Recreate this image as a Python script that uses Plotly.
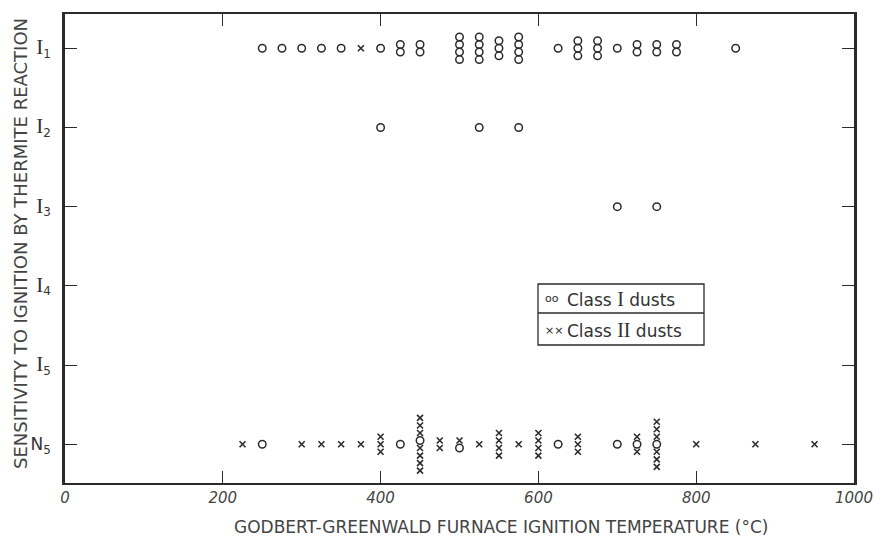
import plotly.graph_objects as go

# ---- data ----
# sensitivity categories (numeric position: I1 top ... N5 bottom)
cat_labels = ["N5", "I5", "I4", "I3", "I2", "I1"]
cat_values = [0, 1, 2, 3, 4, 5]

# each entry: temperature (deg C) and the stacked marks at that temperature,
# listed top to bottom ("o" = Class I dust, "x" = Class II dust)
i1_temps = [250, 275, 300, 325, 350, 375, 400, 425, 450, 500, 525, 550, 575,
            625, 650, 675, 700, 725, 750, 775, 850]
i1_marks = ["o", "o", "o", "o", "o", "x", "o", "oo", "oo", "oooo", "oooo", "ooo",
            "oooo", "o", "ooo", "ooo", "o", "oo", "oo", "oo", "o"]

i2_temps = [400, 525, 575]
i2_marks = ["o", "o", "o"]

i3_temps = [700, 750]
i3_marks = ["o", "o"]

n5_temps = [225, 250, 300, 325, 350, 375, 400, 425, 450, 475, 500, 525, 550,
            575, 600, 625, 650, 700, 725, 750, 800, 875, 950]
n5_marks = ["x", "o", "x", "x", "x", "x", "xxx", "o", "xxxoxxxx", "xx", "xo", "x",
            "xxxx", "x", "xxxx", "o", "xxx", "o", "xox", "xxxoxxx", "x", "x", "x"]

x_ticks = [0, 200, 400, 600, 800, 1000]

# ---- build stacked point lists ----
step = 0.095
rows = [(5, i1_temps, i1_marks), (4, i2_temps, i2_marks),
        (3, i3_temps, i3_marks), (0, n5_temps, n5_marks)]
c1x, c1y, c2x, c2y = [], [], [], []
for cat, temps, marks in rows:
    for t, seq in zip(temps, marks):
        n = len(seq)
        for i, ch in enumerate(seq):
            y = cat + ((n - 1) / 2 - i) * step
            if ch == "o":
                c1x.append(t); c1y.append(y)
            else:
                c2x.append(t); c2y.append(y)

ink = "#2b2b2b"
fig = go.Figure()
fig.add_trace(go.Scatter(x=c1x, y=c1y, mode="markers", name="Class I dusts",
                         marker=dict(symbol="circle-open", size=7.5, color=ink,
                                     line=dict(width=1.5, color=ink)),
                         showlegend=False))
fig.add_trace(go.Scatter(x=c2x, y=c2y, mode="markers", name="Class II dusts",
                         marker=dict(symbol="x-thin-open", size=6, color=ink,
                                     line=dict(width=1.6, color=ink)),
                         showlegend=False))

serif = "Liberation Serif"
ytext = []
for lab in cat_labels:
    letter, sub = lab[0], lab[1]
    if letter == "I":
        ytext.append(f"<span style='font-family:{serif};font-size:21px'>I</span><sub>{sub}</sub>")
    else:
        ytext.append(f"N<sub>{sub}</sub>")

W, H = 874, 542
L, R, T, B = 65, 20, 14, 59
pw, ph = W - L - R, H - T - B

def px(xp):
    return (xp - L) / pw

def py(yp):
    return (H - B - yp) / ph

fig.update_layout(
    width=W, height=H,
    margin=dict(l=L, r=R, t=T, b=B, autoexpand=False),
    paper_bgcolor="white", plot_bgcolor="white",
    font=dict(family="DejaVu Sans", color=ink),
    xaxis=dict(range=[0, 1000], tickvals=x_ticks, ticktext=[str(v) for v in x_ticks],
               ticks="inside", ticklen=12, tickwidth=1.4, tickcolor=ink,
               showline=True, linewidth=2, linecolor=ink, mirror="ticks",
               showgrid=False, zeroline=False, automargin=False,
               tickfont=dict(size=15, style="italic", color="#444")),
    yaxis=dict(range=[-0.489, 5.433], tickvals=cat_values, ticktext=ytext,
               ticks="inside", ticklen=12, tickwidth=1.4, tickcolor=ink,
               showline=True, linewidth=2.5, linecolor=ink, mirror="ticks",
               showgrid=False, zeroline=False, ticklabelstandoff=8, automargin=False,
               tickfont=dict(size=17, color="#333")),
)

# axis titles
fig.add_annotation(text="GODBERT-GREENWALD FURNACE IGNITION TEMPERATURE (°C)",
                   xref="paper", yref="paper", x=px(501), y=py(527),
                   xanchor="center", yanchor="middle",
                   showarrow=False, font=dict(size=17, color="#444"))
fig.add_annotation(text="SENSITIVITY TO IGNITION BY THERMITE REACTION",
                   xref="paper", yref="paper", x=px(20), y=py(244), textangle=-90,
                   xanchor="center", yanchor="middle",
                   showarrow=False, font=dict(size=18, color="#444"))

# legend box (drawn manually: two rows separated by a rule)
lx0, lx1, ly0, ly1, lmid = 538, 704, 284, 345, 313
fig.add_shape(type="rect", xref="paper", yref="paper",
              x0=px(lx0), x1=px(lx1), y0=py(ly1), y1=py(ly0),
              line=dict(color=ink, width=1.3), fillcolor="white", layer="above")
fig.add_shape(type="line", xref="paper", yref="paper",
              x0=px(lx0), x1=px(lx1), y0=py(lmid), y1=py(lmid),
              line=dict(color=ink, width=1.3), layer="above")
fig.add_annotation(text="oo", xref="paper", yref="paper", x=px(543), y=py(298),
                   xanchor="left", yanchor="middle", showarrow=False,
                   font=dict(size=11, color=ink))
fig.add_annotation(text="××", xref="paper", yref="paper", x=px(543), y=py(330),
                   xanchor="left", yanchor="middle", showarrow=False,
                   font=dict(size=11, color=ink))
fig.add_annotation(text=f"Class <span style='font-family:{serif};font-size:20px'>I</span> dusts",
                   xref="paper", yref="paper", x=px(565), y=py(299),
                   xanchor="left", yanchor="middle", showarrow=False,
                   font=dict(size=17, color="#333"))
fig.add_annotation(text=f"Class <span style='font-family:{serif};font-size:20px'>II</span> dusts",
                   xref="paper", yref="paper", x=px(565), y=py(330),
                   xanchor="left", yanchor="middle", showarrow=False,
                   font=dict(size=17, color="#333"))

fig.write_html("out.html")
